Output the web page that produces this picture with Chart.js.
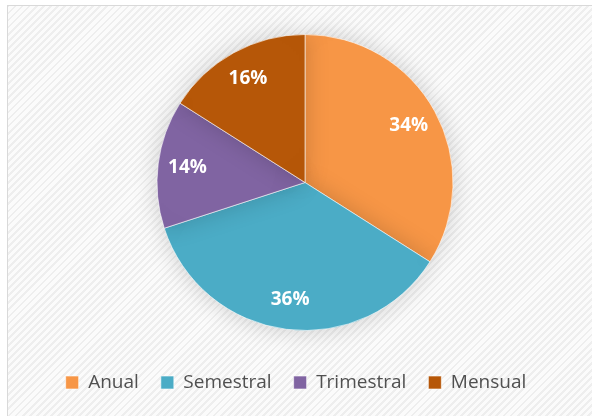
<!DOCTYPE html>
<html>
<head>
<meta charset="utf-8">
<script src="https://cdn.jsdelivr.net/npm/chart.js@4"></script>
<style>
  html, body { margin: 0; padding: 0; background: #fff; overflow: hidden; }
  #box {
    position: absolute; left: 7px; top: 5px; width: 600px; height: 420px;
    border-left: 1px solid #d9d9d9; border-top: 1px solid #d9d9d9;
    background-color: #fbfbfb;
    background-image: repeating-linear-gradient(-45deg, #eeeeee 0 2px, #fbfbfb 2px 5px);
  }
  #wrap { position: absolute; left: 0; top: 0; width: 592px; height: 416px; }
</style>
</head>
<body>
<div id="box"></div>
<div id="wrap"><canvas id="pago-chart"></canvas></div>
<script>
const categorias = ['Anual', 'Semestral', 'Trimestral', 'Mensual'];
const porcentajes = [34, 36, 14, 16];
const colores = ['#F79646', '#4BACC6', '#8064A2', '#B65708'];

// mueve el centro del pie un poco a la derecha, como en el original
const desplazar = {
    id: 'desplazar',
    afterLayout(chart) {
        chart.chartArea.left += 18;
    }
};

// sombra suave detras del pie
const sombra = {
    id: 'sombra',
    beforeDatasetsDraw(chart) {
        const ctx = chart.ctx;
        ctx.save();
        ctx.shadowColor = 'rgba(0,0,0,0.18)';
        ctx.shadowBlur = 24;
    },
    afterDatasetsDraw(chart) {
        chart.ctx.restore();
    }
};

// etiquetas de porcentaje dentro de cada porcion
const etiquetas = {
    id: 'etiquetas',
    afterDatasetsDraw(chart) {
        const ctx = chart.ctx;
        const meta = chart.getDatasetMeta(0);
        ctx.save();
        ctx.fillStyle = '#ffffff';
        ctx.font = 'bold 19px "Open Sans"';
        ctx.textAlign = 'center';
        ctx.textBaseline = 'middle';
        meta.data.forEach((arc, i) => {
            const p = arc.getProps(['x', 'y', 'startAngle', 'endAngle', 'outerRadius']);
            const a = (p.startAngle + p.endAngle) / 2;
            const r = p.outerRadius * 0.8;
            ctx.fillText(porcentajes[i] + '%', p.x + Math.cos(a) * r, p.y + Math.sin(a) * r);
        });
        ctx.restore();
    }
};

const canvas = document.getElementById('pago-chart');
const pagoChart = new Chart(canvas, {
    type: 'pie',
    data: {
        labels: categorias,
        datasets: [{
            data: porcentajes,
            backgroundColor: colores,
            borderColor: 'rgba(255,255,255,0.6)',
            borderWidth: 1,
            radius: 148
        }]
    },
    options: {
        responsive: true,
        maintainAspectRatio: false,
        animation: false,
        layout: { padding: { top: 14, bottom: 14 } },
        plugins: {
            legend: {
                position: 'bottom',
                labels: {
                    boxWidth: 13,
                    boxHeight: 13,
                    padding: 22,
                    color: '#505050',
                    font: { family: 'Open Sans', size: 19 }
                }
            },
            tooltip: { enabled: false }
        }
    },
    plugins: [desplazar, sombra, etiquetas]
});
</script>
</body>
</html>
